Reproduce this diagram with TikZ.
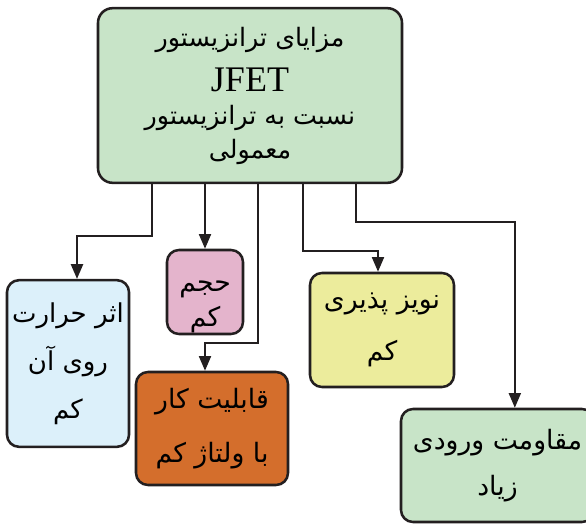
\documentclass[tikz,border=0pt]{standalone}
\usepackage{fontspec}
\setmainfont{Liberation Serif}
\newfontfamily\arabicfont[Script=Arabic]{DejaVu Sans}
\TeXXeTstate=1
\usetikzlibrary{arrows.meta}

\definecolor{linegray}{RGB}{35,31,32}
\definecolor{boxgreen}{RGB}{200,228,200}
\definecolor{boxblue}{RGB}{220,240,250}
\definecolor{boxpink}{RGB}{228,180,204}
\definecolor{boxorange}{RGB}{212,110,44}
\definecolor{boxyellow}{RGB}{236,236,156}
\newcommand{\fa}[1]{{\arabicfont\beginR #1\endR}}

\begin{document}
\begin{tikzpicture}[x=0.75pt,y=0.75pt,yscale=-1,xscale=1,
    box/.style={draw=linegray, line width=1.9pt, rounded corners=9pt, align=center, inner sep=0pt, font=\fontsize{19.5}{36}\selectfont},
    arr/.style={draw=linegray, line width=1.5pt, -{Triangle[width=9pt,length=11pt]}}]
    \useasboundingbox (0,0) rectangle (586,524);

    % boxes
    \node [box, fill=boxgreen, minimum width=228pt, minimum height=131pt, rounded corners=11pt, font=\fontsize{19}{25}\selectfont] (adv) at (250,95.5) {\fa{مزایای ترانزیستور}\\[9pt]{\fontsize{27}{27}\selectfont JFET}\\[0pt] \fa{نسبت به ترانزیستور}\\ \fa{معمولی}};
    \node [box, fill=boxblue, minimum width=91.5pt, minimum height=125pt] (heat) at (68,363.5) {\fa{اثر حرارت}\\ \fa{روی آن}\\ \fa{کم}};
    \node [box, fill=boxpink, minimum width=57pt, minimum height=63pt, font=\fontsize{20}{26}\selectfont] (vol) at (205,292) {\rule{0pt}{30pt}\fa{حجم}\\ \fa{کم}};
    \node [box, fill=boxorange, minimum width=114pt, minimum height=84.75pt, font=\fontsize{20}{41}\selectfont] (volt) at (212,428.5) {\fa{قابلیت کار}\\ \fa{با ولتاژ کم}};
    \node [box, fill=boxyellow, minimum width=108pt, minimum height=85.5pt, font=\fontsize{20}{39}\selectfont] (noise) at (382,330) {\fa{نویز پذیری}\\ \fa{کم}};
    \node [box, fill=boxgreen, minimum width=144.75pt, minimum height=84.75pt, font=\fontsize{20}{34}\selectfont] (input) at (497.5,465.5) {\fa{مقاومت ورودی}\\ \fa{زیاد}};

    % connectors
    \draw [arr] (adv.south -| 152,0) -- ++(0,52) -| ([xshift=6.75pt]heat.north);
    \draw [arr] (adv.south -| vol.north) -- (vol.north);
    \draw [arr] (adv.south -| 258,0) -- ++(0,159) -| (volt.north -| vol.north);
    \draw [arr] (adv.south -| 303,0) -- ++(0,67) -| ([xshift=-3pt]noise.north);
    \draw [arr] (adv.south -| 356,0) -- ++(0,38) -| ([xshift=13pt]input.north);
\end{tikzpicture}
\end{document}
